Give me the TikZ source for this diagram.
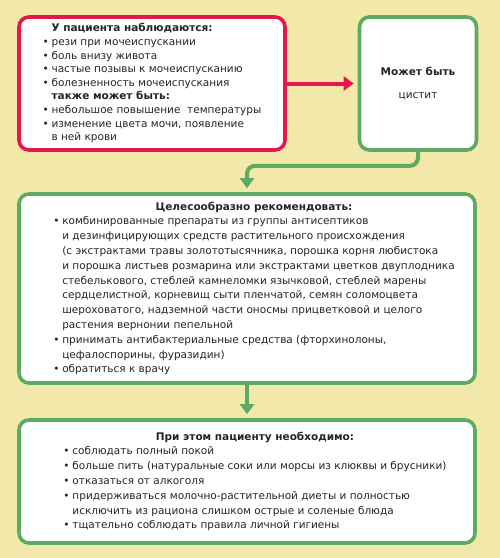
\documentclass[tikz,border=0pt]{standalone}
\usepackage{fontspec}
\setmainfont{DejaVu Sans}
\usetikzlibrary{arrows.meta, positioning}
\definecolor{pageBg}{RGB}{242,232,170}
\definecolor{alarmRed}{RGB}{228,24,78}
\definecolor{calmGreen}{RGB}{94,170,98}
\definecolor{inkGray}{RGB}{38,36,36}
\newcommand{\itm}{\makebox[9pt][l]{\textbullet}}
\newcommand{\cnt}{\hspace*{9pt}}

\begin{document}
\begin{tikzpicture}[x=1pt,y=-1pt,text=inkGray,
    font=\fontsize{10.5}{13.6}\selectfont,
    box/.style={draw,fill=white,line width=3.6pt,rounded corners=10pt,
                inner sep=0pt},
    symbox/.style={box,draw=alarmRed,minimum width=266pt,minimum height=133pt},
    diagbox/.style={box,draw=calmGreen,minimum width=117pt,minimum height=133pt,
                    align=center},
    wide/.style={box,draw=calmGreen,minimum width=456pt,
                 font=\fontsize{10.5}{14.8}\selectfont},
    flow/.style={line width=4pt,-{Triangle[length=10pt,width=14pt]},
                 shorten >=4pt}]
  \fill[pageBg] (0,0) rectangle (500,558);
  \useasboundingbox (0,0) rectangle (500,558);

  % symptoms
  \node[symbox] (symp) at (152,83.5) {\begin{tabular}{@{}l@{}}
    \cnt\textbf{У пациента наблюдаются:}\\
    \itm рези при мочеиспускании\\
    \itm боль внизу живота\\
    \itm частые позывы к мочеиспусканию\\
    \itm болезненность мочеиспускания\\
    \cnt\textbf{также может быть:}\\
    \itm небольшое повышение\ \ температуры\\
    \itm изменение цвета мочи, появление\\
    \cnt в ней крови
  \end{tabular}};

  % diagnosis
  \node[diagbox] (cyst) at (418,83.5)
    {\textbf{Может быть}\\[9pt]{\fontsize{10.5}{12}\selectfont цистит}};

  % recommendations
  \node[wide,minimum height=189pt] (rec) at (247,288.5) {%
    \begin{tabular}{@{\hspace{14pt}}l@{}}
    \multicolumn{1}{@{\hspace{14pt}}c@{}}{\textbf{Целесообразно рекомендовать:}}\\
    \itm комбинированные препараты из группы антисептиков\\
    \cnt и дезинфицирующих средств растительного происхождения\\
    \cnt (с экстрактами травы золототысячника, порошка корня любистока\\
    \cnt и порошка листьев розмарина или экстрактами цветков двуплодника\\
    \cnt стебелькового, стеблей камнеломки язычковой, стеблей марены\\
    \cnt сердцелистной, корневищ сыти пленчатой, семян соломоцвета\\
    \cnt шероховатого, надземной части оносмы прицветковой и целого\\
    \cnt растения вернонии пепельной\\
    \itm принимать антибактериальные средства (фторхинолоны,\\
    \cnt цефалоспорины, фуразидин)\\
    \itm обратиться к врачу
  \end{tabular}};

  % advice
  \node[wide,minimum height=123pt] (adv) at (247,481.5) {%
    \begin{tabular}{@{\hspace{16pt}}l@{}}
    \multicolumn{1}{@{\hspace{16pt}}c@{}}{\textbf{При этом пациенту необходимо:}}\\
    \itm соблюдать полный покой\\
    \itm больше пить (натуральные соки или морсы из клюквы и брусники)\\
    \itm отказаться от алкоголя\\
    \itm придерживаться молочно-растительной диеты и полностью\\
    \cnt исключить из рациона слишком острые и соленые блюда\\
    \itm тщательно соблюдать правила личной гигиены
  \end{tabular}};

  \draw[flow,alarmRed] (symp.east) -- (cyst.west);
  \draw[flow,calmGreen,rounded corners=8pt] (cyst.south) -- ++(0,14) -| (rec.north);
  \draw[flow,calmGreen] (rec.south) -- (adv.north);
\end{tikzpicture}
\end{document}
